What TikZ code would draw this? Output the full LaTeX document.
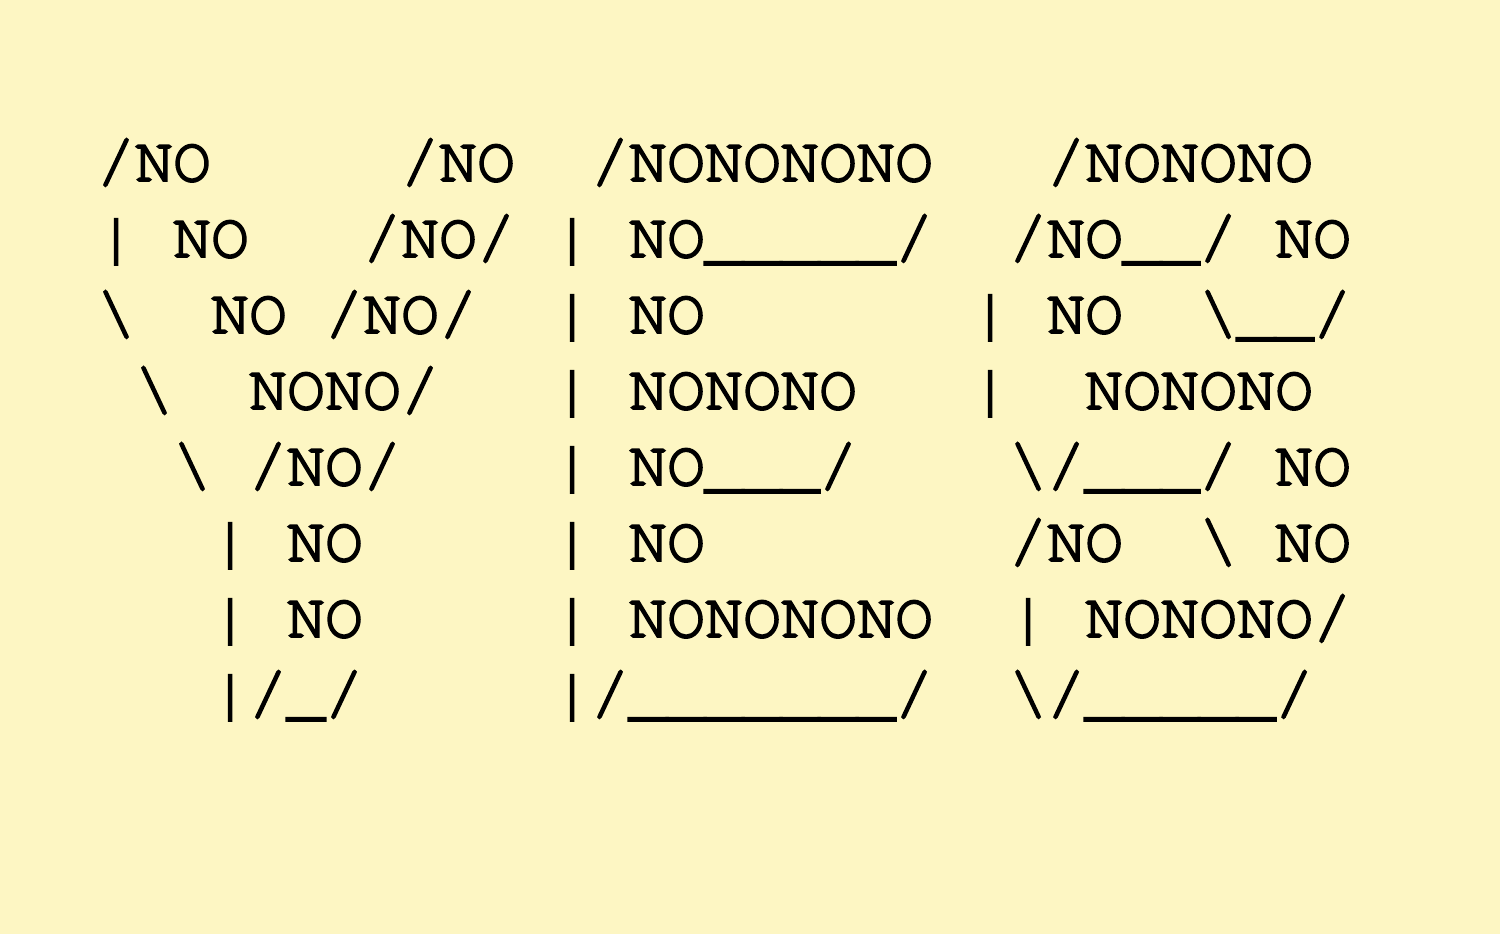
\documentclass[tikz,border=0pt]{standalone}
\usepackage{fontspec}
\setmonofont{TeX Gyre Cursor}[FakeBold=3]
\usepackage{xcolor}
\definecolor{paperYellow}{RGB}{253,246,195}

\def\noPicWidth{750}
\def\noPicHeight{467}
\def\noLeftX{48.5}
\def\noTopY{90.5}
\def\noLineH{38}
\def\noFontSize{31.67}

\tikzset{
    noline/.style = {anchor = base west, inner sep = 0pt, outer sep = 0pt,
        font = \fontsize{\noFontSize}{\noLineH}\selectfont\ttfamily}
}
\def\bs{\textbackslash}

\begin{document}
\begin{tikzpicture}[x = 1pt, y = 1pt]
            %% paper
            \fill [paperYellow]
            (0,0) rectangle (\noPicWidth,-\noPicHeight);
            \useasboundingbox (0,0) rectangle (\noPicWidth,-\noPicHeight);
            %% rows
            \node [noline] (row1) at (\noLeftX,{-\noTopY})
            {/NO\ \ \ \ \ /NO\ \ /NONONONO\ \ \ /NONONO};
            \node [noline] (row2) at (\noLeftX,{-\noTopY-\noLineH})
            {|\ NO\ \ \ /NO/\ |\ NO\_\_\_\_\_/\ \ /NO\_\_/\ NO};
            \node [noline] (row3) at (\noLeftX,{-\noTopY-2*\noLineH})
            {\bs\ \ NO\ /NO/\ \ |\ NO\ \ \ \ \ \ \ |\ NO\ \ \bs\_\_/};
            \node [noline] (row4) at (\noLeftX,{-\noTopY-3*\noLineH})
            {\ \bs\ \ NONO/\ \ \ |\ NONONO\ \ \ |\ \ NONONO};
            \node [noline] (row5) at (\noLeftX,{-\noTopY-4*\noLineH})
            {\ \ \bs\ /NO/\ \ \ \ |\ NO\_\_\_/\ \ \ \ \bs/\_\_\_/\ NO};
            \node [noline] (row6) at (\noLeftX,{-\noTopY-5*\noLineH})
            {\ \ \ |\ NO\ \ \ \ \ |\ NO\ \ \ \ \ \ \ \ /NO\ \ \bs\ NO};
            \node [noline] (row7) at (\noLeftX,{-\noTopY-6*\noLineH})
            {\ \ \ |\ NO\ \ \ \ \ |\ NONONONO\ \ |\ NONONO/};
            \node [noline] (row8) at (\noLeftX,{-\noTopY-7*\noLineH})
            {\ \ \ |/\_/\ \ \ \ \ |/\_\_\_\_\_\_\_/\ \ \bs/\_\_\_\_\_/};
\end{tikzpicture}
\end{document}
